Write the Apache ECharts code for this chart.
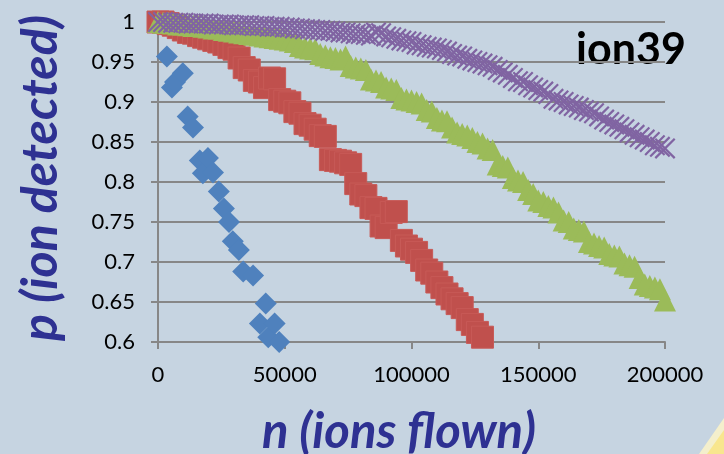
<!DOCTYPE html>
<html>
<head>
<meta charset="utf-8">
<script src="https://cdn.jsdelivr.net/npm/echarts@6/dist/echarts.min.js"></script>
<style>
  html, body { margin: 0; padding: 0; background: #c6d4e1; }
  #chart { width: 724px; height: 454px; }
</style>
</head>
<body>
<div id="chart"></div>
<script>
// Axis ranges and tick labels
const xTicks = [0, 50000, 100000, 150000, 200000];
const yTicks = [0.6, 0.65, 0.7, 0.75, 0.8, 0.85, 0.9, 0.95, 1];

// Blue diamonds: [n, p] pairs
const blueN = [0, 3500, 5500, 6700, 9800, 11700, 13800, 16500, 17700, 19700, 21700, 24000, 26000, 28000, 29500, 31900, 33600, 37500, 40200, 42500, 43500, 46000, 47800];
const blueP = [1.000, 0.957, 0.918, 0.925, 0.936, 0.882, 0.868, 0.827, 0.811, 0.830, 0.812, 0.788, 0.767, 0.750, 0.726, 0.715, 0.688, 0.683, 0.623, 0.648, 0.606, 0.623, 0.600];

// Red squares, n = 0, 2000, 4000, ...
const redStep = 2000;
const redP = [
  1.000, 1.000, 0.998, 0.996, 0.993, 0.990, 0.987, 0.986, 0.983, 0.981,
  0.979, 0.977, 0.975, 0.972, 0.968, 0.966, 0.955, 0.943, 0.940, 0.927,
  0.925, 0.918, 0.930, 0.929, 0.903, 0.901, 0.899, 0.888, 0.886, 0.873,
  0.871, 0.866, 0.858, 0.857, 0.828, 0.827, 0.826, 0.824, 0.822, 0.798,
  0.785, 0.783, 0.768, 0.767, 0.745, 0.743, 0.762, 0.763, 0.727, 0.720,
  0.716, 0.712, 0.702, 0.690, 0.686, 0.675, 0.668, 0.660, 0.654, 0.648,
  0.643, 0.628, 0.622, 0.612, 0.606
];

// Green triangles, n = 0, 2000, 4000, ...
const greenStep = 2000;
const greenP = [
  1.000, 0.999, 0.999, 0.998, 0.997, 0.997, 0.996, 0.995, 0.995, 0.994,
  0.993, 0.992, 0.992, 0.990, 0.989, 0.988, 0.987, 0.986, 0.985, 0.984,
  0.983, 0.982, 0.981, 0.980, 0.979, 0.978, 0.977, 0.975, 0.970, 0.968,
  0.967, 0.966, 0.960, 0.958, 0.956, 0.955, 0.953, 0.957, 0.945, 0.943,
  0.942, 0.940, 0.928, 0.927, 0.925, 0.918, 0.917, 0.915, 0.905, 0.903,
  0.902, 0.900, 0.898, 0.890, 0.888, 0.880, 0.877, 0.876, 0.868, 0.862,
  0.860, 0.858, 0.855, 0.850, 0.848, 0.842, 0.840, 0.822, 0.820, 0.818,
  0.805, 0.802, 0.800, 0.790, 0.785, 0.777, 0.775, 0.770, 0.768, 0.762,
  0.752, 0.750, 0.742, 0.740, 0.738, 0.725, 0.723, 0.720, 0.718, 0.710,
  0.708, 0.707, 0.698, 0.696, 0.694, 0.680, 0.672, 0.670, 0.668, 0.666,
  0.652
];

// Purple crosses, n = 0, 2000, 4000, ...
const purpleStep = 2000;
const purpleP = [
  1.000, 1.000, 0.999, 0.999, 0.999, 0.999, 0.998, 0.998, 0.998, 0.998,
  0.998, 0.997, 0.997, 0.997, 0.997, 0.996, 0.996, 0.996, 0.996, 0.995,
  0.995, 0.995, 0.994, 0.994, 0.994, 0.993, 0.993, 0.992, 0.992, 0.991,
  0.991, 0.990, 0.990, 0.989, 0.989, 0.988, 0.987, 0.987, 0.986, 0.985,
  0.985, 0.984, 0.983, 0.987, 0.986, 0.982, 0.981, 0.979, 0.977, 0.976,
  0.975, 0.972, 0.971, 0.969, 0.968, 0.967, 0.965, 0.963, 0.960, 0.958,
  0.957, 0.954, 0.952, 0.950, 0.948, 0.946, 0.944, 0.940, 0.937, 0.934,
  0.930, 0.926, 0.925, 0.921, 0.918, 0.915, 0.913, 0.910, 0.904, 0.902,
  0.900, 0.897, 0.895, 0.893, 0.890, 0.888, 0.886, 0.882, 0.878, 0.875,
  0.872, 0.869, 0.866, 0.862, 0.859, 0.856, 0.853, 0.850, 0.846, 0.844,
  0.842
];

function stepped(values, step) {
  return values.map((p, i) => [i * step, p]);
}

const gridColor = '#878787';
const titleColor = '#2e3192';
const tickFont = 'Lato, "Open Sans", sans-serif';

// Thin "x" marker outline
const crossPath = 'path://M0,1.5L1.5,0L10,8.5L18.5,0L20,1.5L11.5,10L20,18.5L18.5,20L10,11.5L1.5,20L0,18.5L8.5,10Z';

const chart = echarts.init(document.getElementById('chart'), null, { renderer: 'canvas' });

chart.setOption({
  backgroundColor: '#c6d4e1',
  animation: false,
  grid: { left: 158, right: 59, top: 22, bottom: 112, containLabel: false },
  xAxis: {
    type: 'value',
    min: xTicks[0],
    max: xTicks[xTicks.length - 1],
    interval: xTicks[1] - xTicks[0],
    axisLine: { show: true, lineStyle: { color: gridColor, width: 2 } },
    axisTick: { show: true, length: 7, lineStyle: { color: gridColor, width: 2 } },
    splitLine: { show: false },
    axisLabel: {
      margin: 22,
      color: '#000',
      fontFamily: tickFont,
      fontSize: 22,
      formatter: v => String(v)
    }
  },
  yAxis: {
    type: 'value',
    min: yTicks[0],
    max: yTicks[yTicks.length - 1],
    interval: 0.05,
    axisLine: { show: true, lineStyle: { color: gridColor, width: 2 } },
    axisTick: { show: true, length: 7, lineStyle: { color: gridColor, width: 2 } },
    splitLine: { show: true, lineStyle: { color: gridColor, width: 2 } },
    axisLabel: {
      margin: 23,
      color: '#000',
      fontFamily: tickFont,
      fontSize: 22,
      formatter: v => String(+v.toFixed(2))
    }
  },
  series: [
    {
      type: 'scatter',
      symbol: 'diamond',
      symbolSize: 22,
      itemStyle: { color: '#4f81bd', opacity: 1 },
      data: blueN.map((n, i) => [n, blueP[i]])
    },
    {
      type: 'scatter',
      symbol: 'rect',
      symbolSize: 22,
      itemStyle: { color: '#c0504d', borderColor: '#c75a57', borderWidth: 1, opacity: 1 },
      data: stepped(redP, redStep)
    },
    {
      type: 'scatter',
      symbol: 'triangle',
      symbolSize: 22,
      itemStyle: { color: '#9bbb59', opacity: 1 },
      data: stepped(greenP, greenStep)
    },
    {
      type: 'scatter',
      symbol: crossPath,
      symbolSize: 21,
      itemStyle: { color: '#8064a2', opacity: 1 },
      data: stepped(purpleP, purpleStep)
    }
  ],
  graphic: [
    {
      type: 'text',
      x: 41, y: 178,
      rotation: Math.PI / 2,
      style: {
        text: 'p (ion detected)',
        font: 'italic bold 50px Lato, "Open Sans", sans-serif',
        fill: titleColor,
        align: 'center', verticalAlign: 'middle',
        textAlign: 'center', textVerticalAlign: 'middle'
      }
    },
    {
      type: 'text',
      x: 399, y: 432,
      style: {
        text: 'n (ions flown)',
        font: 'italic bold 49px Lato, "Open Sans", sans-serif',
        fill: titleColor,
        align: 'center', verticalAlign: 'middle',
        textAlign: 'center', textVerticalAlign: 'middle'
      }
    },
    {
      type: 'text',
      x: 631, y: 50,
      style: {
        text: 'ion39',
        font: 'bold 43px Lato, "Open Sans", sans-serif',
        fill: '#000',
        align: 'center', verticalAlign: 'middle',
        textAlign: 'center', textVerticalAlign: 'middle'
      }
    },
    {
      type: 'polygon',
      shape: { points: [[699, 454], [724, 418], [724, 454]] },
      style: { fill: '#f4efcc' }
    },
    {
      type: 'polygon',
      shape: { points: [[707, 454], [724, 430], [724, 454]] },
      style: { fill: '#f8e68e' }
    }
  ]
});
</script>
</body>
</html>
